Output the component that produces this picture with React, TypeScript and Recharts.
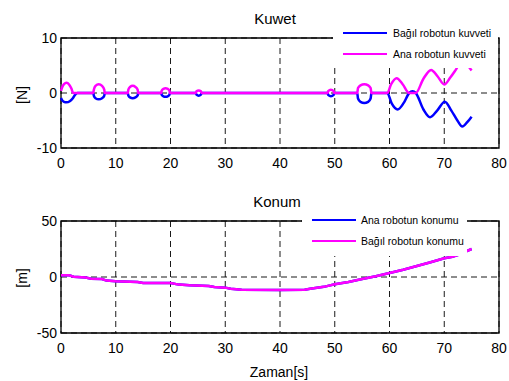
import React from 'react';
import { LineChart, Line, XAxis, YAxis, CartesianGrid, ReferenceArea, Legend } from 'recharts';

const W = 509;
const H = 381;
const FONT = 'Liberation Sans, Arial, Helvetica, sans-serif';

// ---- tick labels ----
const timeTicks = [0, 10, 20, 30, 40, 50, 60, 70, 80];
const forceTicks = [-10, 0, 10];
const posTicks = [-50, 0, 50];

// ---- series names ----
const forceNames = ['Bağıl robotun kuvveti', 'Ana robotun kuvveti'];
const posNames = ['Ana robotun konumu', 'Bağıl robotun konumu'];

// ---- Kuwet: Bağıl robotun kuvveti (blue) ----
const slaveForceT = [0, 0.2, 0.55, 1.0, 1.6, 2.2, 2.6, 3.0,
  5.9, 6.0, 6.3, 6.9, 7.5, 7.9, 8.0,
  12.2, 12.3, 12.6, 13.1, 13.6, 14.0, 14.1,
  18.3, 18.4, 18.7, 19.1, 19.5, 19.8, 19.9,
  24.6, 24.75, 25.15, 25.55, 25.7,
  48.7, 48.8, 49.3, 49.8, 49.9,
  54.1, 54.25, 54.7, 55.4, 56.1, 56.55, 56.7,
  59.6, 60.4, 61.5, 62.6, 63.6, 64.2, 64.8,
  66.2, 67.4, 68.7, 70.1, 71.3, 72.4, 73.3, 74.2, 75.0];
const slaveForceV = [-0.9, -1.3, -1.6, -1.7, -1.5, -0.9, -0.3, 0,
  0, -0.5, -0.95, -1.15, -0.95, -0.5, 0,
  0, -0.45, -0.8, -0.95, -0.8, -0.45, 0,
  0, -0.35, -0.6, -0.7, -0.6, -0.35, 0,
  0, -0.3, -0.5, -0.3, 0,
  0, -0.35, -0.6, -0.35, 0,
  0, -1.0, -1.6, -1.8, -1.6, -1.0, 0,
  0, -1.9, -3.0, -1.8, 0, 0.3, 0,
  -3.0, -4.4, -3.2, -1.6, -3.2, -5.0, -6.1, -5.3, -4.3];

// ---- Kuwet: Ana robotun kuvveti (magenta) ----
const masterForceT = [0, 0.2, 0.55, 1.0, 1.5, 1.9, 2.2, 2.5,
  5.9, 6.0, 6.3, 6.9, 7.5, 7.9, 8.0,
  12.2, 12.3, 12.6, 13.1, 13.6, 14.0, 14.1,
  18.3, 18.4, 18.7, 19.1, 19.5, 19.8, 19.9,
  24.6, 24.75, 25.15, 25.55, 25.7,
  48.7, 48.8, 49.3, 49.8, 49.9,
  54.1, 54.25, 54.7, 55.4, 56.1, 56.55, 56.7,
  59.6, 60.3, 61.3, 62.4, 63.6, 64.8,
  66.2, 67.6, 68.8, 70.0, 71.1, 72.1, 73.3, 74.3, 75.0];
const masterForceV = [0.4, 1.0, 1.6, 1.85, 1.5, 0.8, 0.05, 0,
  0, 0.6, 1.3, 1.6, 1.3, 0.6, 0,
  0, 0.6, 1.1, 1.3, 1.1, 0.6, 0,
  0, 0.45, 0.75, 0.85, 0.75, 0.45, 0,
  0, 0.3, 0.45, 0.3, 0,
  0, 0.35, 0.6, 0.35, 0,
  0, 0.9, 1.4, 1.6, 1.4, 0.9, 0,
  0, 1.6, 2.7, 1.6, 0, 0,
  2.6, 4.2, 3.0, 1.55, 2.8, 4.2, 6.0, 5.0, 4.1];

// ---- Konum: positions ----
const posT = [0, 1.5, 2.3, 4.5, 5.5, 7.5, 8.3, 10, 14, 15, 20, 21.5, 23.5, 27, 28, 30, 31, 33, 40,
  44.5, 45.5, 48, 50, 52.5, 55, 57.5, 60, 62.5, 65, 67.5, 70, 71.5, 73, 74, 75];
const masterPosV = [1.5, 1.5, 0.3, -0.5, -1.5, -1.8, -3.2, -3.9, -4.5, -5.3, -5.3, -6.8, -7.4, -8.0, -9.0, -9.5, -10.5, -11.3, -11.5,
  -11.3, -10.5, -8.8, -6.5, -4.5, -1.8, 0.7, 3.5, 6.5, 9.8, 13.2, 16.7, 18.0, 20.5, 22.8, 25.0];
const slavePosV = [1.5, 1.5, 0.3, -0.5, -1.5, -1.8, -3.2, -3.9, -4.5, -5.3, -5.3, -6.8, -7.4, -8.0, -9.0, -9.5, -10.5, -11.3, -11.5,
  -11.3, -10.5, -8.8, -6.5, -4.5, -1.8, 0.7, 3.5, 6.5, 9.8, 13.2, 16.7, 18.0, 20.5, 22.8, 25.0];

const zip = (t: number[], v: number[]) => t.map((x, i) => ({ t: x, v: v[i] }));

const slaveForce = zip(slaveForceT, slaveForceV);
const masterForce = zip(masterForceT, masterForceV);
const masterPos = zip(posT, masterPosV);
const slavePos = zip(posT, slavePosV);

const tickStyle = { fill: '#000', fontSize: 14, fontFamily: FONT };

const makeLegend = (order: string[], padTop: number, lineLeft: number, textGap: number) => (props: any) => {
  const items = [...(props.payload || [])].sort(
    (a: any, b: any) => order.indexOf(a.value) - order.indexOf(b.value)
  );
  return (
    <div style={{ paddingTop: padTop, fontFamily: FONT, fontSize: 10.5, color: '#000' }}>
      {items.map((it: any) => (
        <div key={it.value} style={{ display: 'flex', alignItems: 'center', height: 21 }}>
          <span style={{ display: 'inline-block', width: 44, height: 2.5, background: it.color, marginLeft: lineLeft }} />
          <span style={{ marginLeft: textGap, whiteSpace: 'nowrap' }}>{it.value}</span>
        </div>
      ))}
    </div>
  );
};

export default function App() {
  return (
    <div style={{ position: 'absolute', left: 0, top: 0, width: W, height: H, background: '#fff' }}>
      <div style={{ position: 'absolute', left: 0, top: 0 }}>
        <LineChart width={W} height={H} margin={{ top: 38, right: 10, bottom: 203, left: 0 }}>
          <CartesianGrid stroke="#000" strokeDasharray="6 4" strokeWidth={0.9} />
          <XAxis dataKey="t" type="number" domain={[0, 80]} ticks={timeTicks} interval={0}
            axisLine={false} tickLine={false} tickSize={0} tickMargin={10} height={30} tick={tickStyle} />
          <YAxis type="number" domain={[-10, 10]} ticks={forceTicks} interval={0} width={61}
            axisLine={false} tickLine={false} tickSize={0} tickMargin={4} tick={tickStyle} />
          <ReferenceArea x1={0} x2={80} y1={-10} y2={10} fill="none" stroke="#000" strokeWidth={1.3} fillOpacity={0} />
          <Line data={slaveForce} dataKey="v" name={forceNames[0]} stroke="#0000ff" strokeWidth={2.5}
            dot={false} type="monotone" isAnimationActive={false} />
          <Line data={masterForce} dataKey="v" name={forceNames[1]} stroke="#ff00ff" strokeWidth={2.5}
            dot={false} type="monotone" isAnimationActive={false} />
          <Legend layout="vertical" align="center" verticalAlign="middle"
            wrapperStyle={{ left: 333, top: 22, width: 165, height: 46, background: '#fff' }}
            content={makeLegend(forceNames, 0.5, 10, 6)} />
          <text x={275} y={24} textAnchor="middle" fontSize={15} fontFamily={FONT} fill="#000">Kuwet</text>
          <text x={27} y={95} textAnchor="middle" fontSize={14} fontFamily={FONT} fill="#000"
            transform="rotate(-90, 27, 95)">[N]</text>
        </LineChart>
      </div>
      <div style={{ position: 'absolute', left: 0, top: 0 }}>
        <LineChart width={W} height={H} margin={{ top: 221, right: 10, bottom: 18, left: 0 }}>
          <CartesianGrid stroke="#000" strokeDasharray="6 4" strokeWidth={0.9} />
          <XAxis dataKey="t" type="number" domain={[0, 80]} ticks={timeTicks} interval={0}
            axisLine={false} tickLine={false} tickSize={0} tickMargin={10} height={30} tick={tickStyle} />
          <YAxis type="number" domain={[-50, 50]} ticks={posTicks} interval={0} width={61}
            axisLine={false} tickLine={false} tickSize={0} tickMargin={4} tick={tickStyle} />
          <ReferenceArea x1={0} x2={80} y1={-50} y2={50} fill="none" stroke="#000" strokeWidth={1.3} fillOpacity={0} />
          <Line data={masterPos} dataKey="v" name={posNames[0]} stroke="#0000ff" strokeWidth={2.5}
            dot={false} type="linear" isAnimationActive={false} />
          <Line data={slavePos} dataKey="v" name={posNames[1]} stroke="#ff00ff" strokeWidth={2.5}
            dot={false} type="linear" isAnimationActive={false} />
          <Legend layout="vertical" align="center" verticalAlign="middle"
            wrapperStyle={{ left: 302, top: 208, width: 165, height: 48, background: '#fff' }}
            content={makeLegend(posNames, 1.5, 10, 5)} />
          <text x={277} y={207} textAnchor="middle" fontSize={15} fontFamily={FONT} fill="#000">Konum</text>
          <text x={27} y={278} textAnchor="middle" fontSize={14} fontFamily={FONT} fill="#000"
            transform="rotate(-90, 27, 278)">[m]</text>
          <text x={279} y={377} textAnchor="middle" fontSize={14} fontFamily={FONT} fill="#000">Zaman[s]</text>
        </LineChart>
      </div>
    </div>
  );
}
